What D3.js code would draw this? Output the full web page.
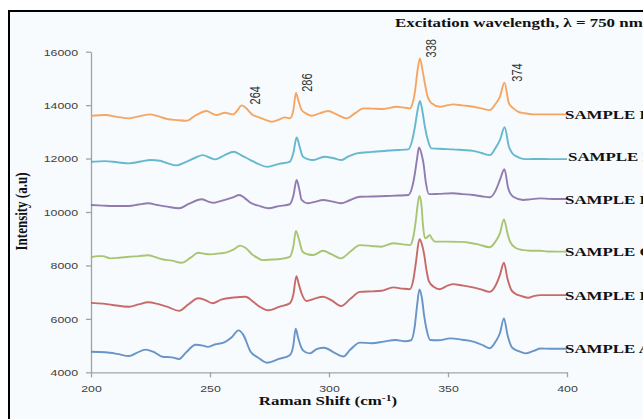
<!DOCTYPE html>
<html>
<head>
<meta charset="utf-8">
<script src="https://cdn.jsdelivr.net/npm/d3@7"></script>
<style>
  body { margin: 0; background: #fff; }
  svg { display: block; }
</style>
</head>
<body>
<script>
// Raman spectra, stacked
var xTicks = [200, 250, 300, 350, 400];
var yTicks = [4000, 6000, 8000, 10000, 12000, 14000, 16000];
var sampleNames = ['SAMPLE A', 'SAMPLE B', 'SAMPLE C', 'SAMPLE D', 'SAMPLE E', 'SAMPLE F'];
var sampleColors = ['#4f81bd', '#c0504d', '#9bbb59', '#8064a2', '#4bacc6', '#f79646'];
var peakShifts = [264, 286, 338, 374];

var sampleA = [[200,4770],[206,4750],[211,4690],[216,4610],[219,4720],[223,4850],[227,4730],[230,4580],[234,4560],[237,4500],[240,4750],[244,5030],[247,5000],[249,4950],[252,5040],[256,5120],[259,5300],[262,5570],[264,5400],[267,4780],[270,4560],[274,4360],[279,4500],[283.5,4640],[285,5000],[286,5630],[287,5300],[288.5,4900],[290,4760],[292,4710],[295,4880],[298,4920],[302,4750],[306,4590],[309,4850],[313,5110],[318,5090],[323,5150],[328,5210],[332,5160],[334.5,5200],[336,5700],[337,6500],[338,7100],[339,6800],[340,6100],[341,5600],[342.5,5210],[346,5200],[351,5270],[356,5220],[361,5140],[365,5000],[367.5,4900],[370,5150],[371.8,5460],[373.5,6020],[375,5400],[377,4920],[380,4780],[382.5,4710],[386,4800],[389,4890],[393,4880],[400,4880]];
var sampleB = [[200,6600],[205,6570],[209,6520],[216,6455],[220,6540],[224,6620],[228,6560],[232,6455],[237,6300],[241,6550],[245,6770],[248,6700],[251,6585],[255,6730],[260,6800],[265,6830],[268,6650],[271,6450],[274.5,6320],[279,6450],[283.5,6580],[285,6900],[286.3,7600],[287.3,7300],[288.5,6950],[290.5,6670],[294,6760],[297.5,6830],[301,6700],[305,6480],[309,6750],[313,7010],[318,7030],[322,7050],[327,7180],[331,7130],[334,7110],[335.5,7500],[336.5,8100],[338,8980],[339,8800],[340,8400],[341,7800],[342,7400],[344,7200],[346.5,7110],[350,7250],[352,7300],[356,7250],[360.5,7180],[364,7100],[367.5,7010],[370,7250],[371.8,7640],[373.5,8100],[375,7500],[376.5,7100],[378,6960],[381,6850],[383.8,6790],[386,6850],[389,6890],[393,6890],[400,6890]];
var sampleC = [[200,8300],[203,8350],[205,8350],[208,8265],[212,8290],[216,8325],[220,8350],[224,8380],[227,8310],[230,8230],[234,8180],[238,8100],[242,8300],[245,8475],[248,8430],[250,8415],[254,8450],[257,8490],[260,8600],[262.6,8740],[265,8650],[267.5,8430],[270,8280],[272,8200],[276,8220],[279.5,8240],[283.5,8320],[285,8700],[286.1,9290],[287.3,9000],[288.9,8510],[291,8420],[293.4,8390],[297.5,8550],[301,8420],[305,8266],[309,8520],[313,8760],[318,8730],[322,8700],[327,8830],[331,8790],[334,8760],[335.5,9100],[336.5,9700],[337.3,10300],[338,10600],[338.8,10300],[339.5,9500],[340.3,9020],[341.3,9060],[342.3,9140],[343.3,9000],[344.5,8890],[350,8890],[355,8880],[359,8850],[363,8780],[367.5,8680],[370,8900],[371.8,9200],[373.5,9725],[375,9200],[376,8900],[378.5,8650],[381,8580],[384.5,8550],[388.7,8550],[392,8520],[400,8515]];
var sampleD = [[200,10260],[205,10240],[209,10225],[216,10225],[220,10280],[224,10325],[228,10260],[232,10200],[237,10140],[241,10300],[246.5,10475],[249,10400],[251.5,10345],[254,10400],[257,10475],[260,10560],[262.3,10635],[264.5,10530],[267,10345],[271,10220],[274.5,10140],[279,10220],[283.5,10290],[285,10600],[286.4,11200],[287.4,10900],[288.5,10450],[291,10325],[294,10380],[297.6,10450],[301,10400],[305,10325],[309,10450],[313,10570],[318,10580],[324,10600],[329,10615],[333.3,10635],[335,10950],[336.1,11450],[337,12000],[337.8,12420],[338.8,12200],[339.7,11820],[340.7,11100],[342,10670],[346,10680],[352,10700],[356,10670],[360.6,10635],[364,10590],[367.6,10550],[370,10800],[371.8,11200],[373.7,11600],[375.3,10890],[377.4,10570],[381.6,10450],[385,10480],[388.7,10510],[393,10490],[400,10485]];
var sampleE = [[200,11880],[206,11905],[211,11860],[216,11820],[221,11890],[225,11945],[229,11920],[232,11830],[236,11745],[240,11880],[244,12040],[247,12130],[250,12030],[252,11970],[256,12120],[260,12255],[263,12130],[267,11945],[270,11810],[274,11690],[279,11800],[283.5,11880],[285,12200],[286.4,12795],[287.5,12500],[289,12070],[291,11980],[293.4,11945],[298,12070],[302,12010],[305.3,11945],[308,12070],[311.6,12195],[318,12250],[324,12290],[329,12320],[333.3,12345],[335,12700],[336.1,13190],[337.2,13800],[338.2,14160],[339.2,13800],[340.3,13190],[341.5,12700],[343,12380],[348,12360],[352,12345],[356,12320],[360.6,12290],[364,12210],[367.6,12130],[370,12400],[371.8,12690],[373.8,13170],[375.6,12440],[377,12200],[379,12070],[381,12000],[383.8,11980],[388,11985],[393,11980],[400,11980]];
var sampleF = [[200,13600],[206,13630],[211,13560],[216,13505],[221,13600],[225,13655],[229,13560],[232,13480],[236,13440],[240,13415],[244,13620],[248.6,13780],[251,13680],[252.8,13630],[256.3,13715],[259.8,13655],[261.5,13800],[263.3,13990],[265,13900],[268,13630],[270,13560],[273,13460],[276,13380],[279,13460],[281.5,13540],[283.6,13505],[285,13800],[286.1,14460],[287.2,14150],[288.5,13815],[290.5,13680],[292.7,13600],[296,13690],[299.7,13780],[303,13660],[307.4,13505],[311,13700],[314.4,13880],[318,13870],[322.8,13855],[328.4,13940],[332,13900],[334,13880],[335.2,14100],[336.1,14500],[337.2,15300],[338.2,15750],[339.2,15350],[340.3,14800],[341.5,14300],[343.1,14070],[346.6,13940],[350,14000],[352.2,14030],[356,13990],[360.6,13940],[364,13880],[367.6,13815],[370,14050],[371.8,14310],[373.7,14840],[375.6,14070],[377.5,13880],[379.6,13750],[382,13700],[385.8,13655],[390,13655],[400,13655]];

var series = [sampleA, sampleB, sampleC, sampleD, sampleE, sampleF];

var W = 643, H = 419;
var SX = 1.3; // the picture is stretched sideways, text too
var SERIF = '"Liberation Serif", "Times New Roman", serif';
var SANS = '"Liberation Sans", Arial, sans-serif';
var margin = {left: 91, top: 51.7, width: 476, height: 320.6};

var svg = d3.select('body').append('svg')
  .attr('width', W)
  .attr('height', H);

svg.append('rect')
  .attr('x', 9).attr('y', 11)
  .attr('width', 700).attr('height', 500)
  .attr('fill', '#f7fbfe')
  .attr('stroke', '#000')
  .attr('stroke-width', 2);

var x = d3.scaleLinear().domain([200, 400]).range([margin.left, margin.left + margin.width]);
var y = d3.scaleLinear().domain([4000, 16000]).range([margin.top + margin.height, margin.top]);

// axes
var gx = svg.append('g')
  .attr('transform', 'translate(0,' + y(4000) + ')')
  .call(d3.axisBottom(x).tickValues(xTicks).tickSize(5).tickSizeOuter(0).tickFormat(d3.format('d')));
var gy = svg.append('g')
  .attr('transform', 'translate(' + x(200) + ',0)')
  .call(d3.axisLeft(y).tickValues(yTicks).tickSize(5).tickSizeOuter(0).tickFormat(d3.format('d')));

[gx, gy].forEach(function(g) {
  g.select('.domain').attr('stroke', '#a3a3a3').attr('stroke-width', 1.3);
  g.selectAll('.tick line').attr('stroke', '#a3a3a3').attr('stroke-width', 1.3);
  g.selectAll('text').attr('fill', '#404040')
    .style('font-family', SANS).style('font-size', '9.5px');
});
gx.selectAll('text').attr('y', 20).attr('dy', 0).attr('transform', 'scale(' + SX + ',1)');
gy.selectAll('text').attr('x', -13 / SX).attr('dy', '0.35em').attr('transform', 'scale(' + SX + ',1)');

// spectra
var line = d3.line()
  .x(function(d) { return x(d[0]); })
  .y(function(d) { return y(d[1]); })
  .curve(d3.curveMonotoneX);

series.forEach(function(s, i) {
  svg.append('path')
    .datum(s)
    .attr('d', line)
    .attr('fill', 'none')
    .attr('stroke', sampleColors[i])
    .attr('stroke-opacity', 0.85)
    .attr('stroke-width', 1.9)
    .attr('stroke-linejoin', 'round');
});

function textAt(px, py, str, size, rotate) {
  var t = svg.append('text')
    .attr('transform', 'translate(' + px + ',' + py + ') scale(' + SX + ',1)' + (rotate ? ' rotate(-90)' : ''))
    .style('font-size', size + 'px');
  if (str) t.text(str);
  return t;
}

// sample labels at the end of each line
series.forEach(function(s, i) {
  var last = s[s.length - 1];
  var dx = sampleNames[i] === 'SAMPLE E' ? 1 : -2;
  var dy = sampleNames[i] === 'SAMPLE E' ? 1.5 : 4.5;
  textAt(x(last[0]) + dx, y(last[1]) + dy, sampleNames[i], 13)
    .style('font-family', SERIF).style('font-weight', 'bold').attr('fill', '#111');
});

// peak labels above sample F
peakShifts.forEach(function(p) {
  var near = sampleF.filter(function(d) { return Math.abs(d[0] - p) <= 2.5; });
  var top = d3.max(near, function(d) { return d[1]; });
  textAt(x(p) + 16.5, y(top) - 1, String(p), 11, true)
    .style('font-family', SANS).attr('fill', '#333');
});

// titles
textAt(395, 27, 'Excitation wavelength, \u03bb = 750 nm', 13)
  .style('font-family', SERIF).style('font-weight', 'bold').attr('fill', '#111');

var xt = textAt(328, 405, null, 13)
  .style('font-family', SERIF).style('font-weight', 'bold').attr('fill', '#111')
  .attr('text-anchor', 'middle');
xt.append('tspan').text('Raman Shift (cm');
xt.append('tspan').text('-1').attr('baseline-shift', 'super').style('font-size', '9px');
xt.append('tspan').text(')');

textAt(26.5, 211.5, 'Intensity (a.u)', 13, true)
  .style('font-family', SERIF).style('font-weight', 'bold').attr('fill', '#111')
  .attr('text-anchor', 'middle');
</script>
</body>
</html>
